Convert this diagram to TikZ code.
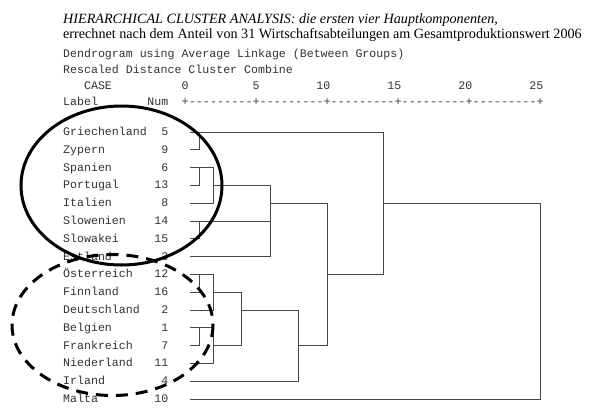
\documentclass[tikz,border=0pt]{standalone}
\usepackage{fontspec}
\setmainfont{Liberation Serif}
\newfontfamily\monof{Liberation Mono}
\newcommand\dd{-\kern0pt}
\newcommand\seg{\dd\dd\dd\dd\dd\dd\dd\dd\dd+}
\begin{document}
\begin{tikzpicture}[x=1pt,y=-1pt,
  titlef/.style={font=\fontsize{14.15}{16}\selectfont, text=black, inner sep=0pt, anchor=base west},
  mono/.style={font=\monof\fontsize{11.6}{13}\selectfont, text=black!80, inner sep=0pt},
  lbl/.style={mono, anchor=base west},
  numr/.style={mono, anchor=base east},
  numc/.style={mono, anchor=base},
  tickf/.style={font=\monof\fontsize{11.83}{13}\selectfont, text=black!75, inner sep=0pt, anchor=base west},
  dline/.style={draw=black!72, line width=0.9pt},
  ring/.style={draw=black, line width=3pt},
  dring/.style={draw=black, line width=3pt, dash pattern=on 12pt off 8pt}]
\useasboundingbox (0,0) rectangle (600,418);
\fill[white] (0,0) rectangle (600,418);
% titles
\node[titlef] (t1) at (63,23.5) {\itshape HIERARCHICAL CLUSTER ANALYSIS: die ersten vier Hauptkomponenten,};
\node[titlef] (t2) at (63,38.5) {errechnet nach dem Anteil von 31 Wirtschaftsabteilungen am Gesamtproduktionswert 2006};
% header
\node[lbl] (h1) at (63,57.4) {Dendrogram using Average Linkage (Between Groups)};
\node[lbl] (h2) at (63,73.4) {Rescaled Distance Cluster Combine};
\node[lbl] (h3) at (83.9,89.4) {CASE};
\node[numc] (s0) at (185,89.4) {0};
\node[numc] (s5) at (256,89.4) {5};
\node[numr] (s10) at (330.5,89.4) {10};
\node[numr] (s15) at (401.5,89.4) {15};
\node[numr] (s20) at (472.5,89.4) {20};
\node[numr] (s25) at (543.5,89.4) {25};
\node[lbl] (hl) at (63,105.4) {Label};
\node[numr] (hn) at (168.5,105.4) {Num};
\node[tickf] (tk) at (181.45,105.4) {+\seg\seg\seg\seg\seg};
% leaves
\foreach \lab/\n [count=\i] in {Griechenland/5, Zypern/9, Spanien/6, Portugal/13, Italien/8, Slowenien/14, Slowakei/15, Estland/3, Österreich/12, Finnland/16, Deutschland/2, Belgien/1, Frankreich/7, Niederland/11, Irland/4, Malta/10}{
  \pgfmathsetmacro\yy{132+(\i-1)*17.8}
  \node[lbl] (lab\i) at (63,\yy+3.4) {\lab};
  \node[numr] (num\i) at (168.5,\yy+3.4) {\n};
  \coordinate (l\i) at (190,\yy);
}
% merge points
\coordinate (mA) at (199.2,132);
\coordinate (mB) at (199.2,167.6);
\coordinate (mC) at (213.4,185.4);
\coordinate (mD) at (199.2,221);
\coordinate (mE) at (270.2,203.2);
\coordinate (mF) at (199.2,274.4);
\coordinate (mG) at (213.4,292.2);
\coordinate (mH) at (199.2,327.8);
\coordinate (mI) at (213.4,345.6);
\coordinate (mJ) at (241.8,310);
\coordinate (mK) at (298.6,345.6);
\coordinate (mL) at (327,274.4);
\coordinate (mM) at (383.8,203.2);
\coordinate (mN) at (540,203.2);
% dendrogram
\draw[dline] (l1) -| (mA);
\draw[dline] (l2) -| (mA);
\draw[dline] (l3) -| (mB);
\draw[dline] (l4) -| (mB);
\draw[dline] (mB) -| (mC);
\draw[dline] (l5) -| (mC);
\draw[dline] (l6) -| (mD);
\draw[dline] (l7) -| (mD);
\draw[dline] (mC) -| (mE);
\draw[dline] (mD) -| (mE);
\draw[dline] (l8) -| (mE);
\draw[dline] (l9) -| (mF);
\draw[dline] (l10) -| (mF);
\draw[dline] (mF) -| (mG);
\draw[dline] (l11) -| (mG);
\draw[dline] (l12) -| (mH);
\draw[dline] (l13) -| (mH);
\draw[dline] (mH) -| (mI);
\draw[dline] (l14) -| (mI);
\draw[dline] (mG) -| (mJ);
\draw[dline] (mI) -| (mJ);
\draw[dline] (mJ) -| (mK);
\draw[dline] (l15) -| (mK);
\draw[dline] (mE) -| (mL);
\draw[dline] (mK) -| (mL);
\draw[dline] (mA) -| (mM);
\draw[dline] (mL) -| (mM);
\draw[dline] (mM) -| (mN);
\draw[dline] (l16) -| (mN);
% hand-drawn rings
\draw[ring] (121.5,185.5) ellipse [x radius=100.5, y radius=79.5];
\draw[dring] (112.5,325) ellipse [x radius=100.5, y radius=70.5];
\end{tikzpicture}
\end{document}
